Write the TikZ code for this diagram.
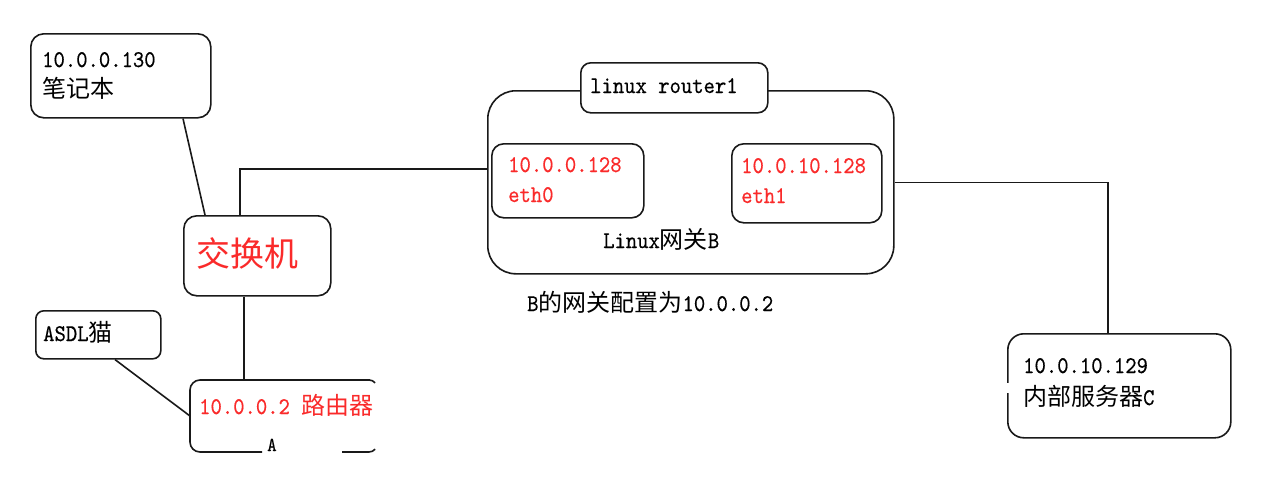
\documentclass[tikz,border=0pt]{standalone}
\usepackage{fontspec}
\newfontfamily\cjk{Noto Sans CJK SC}[Scale=1.0]
\newfontfamily\lmt{lmmono10-regular.otf}[FakeStretch=0.9, FakeBold=0.4]
\usetikzlibrary{calc}
\definecolor{redtxt}{RGB}{250,42,42}
\definecolor{ln}{RGB}{25,25,25}
\begin{document}
\begin{tikzpicture}[x=1pt,y=-1pt,
  box/.style={draw=ln, line width=1.6pt, rounded corners=#1, anchor=north west, inner sep=0pt},
  box/.default=12pt,
  txt/.style={anchor=base west, inner sep=0pt, font=\lmt\fontsize{24}{26}\selectfont},
  conn/.style={draw=ln, line width=1.6pt}]
\useasboundingbox (0,0) rectangle (1276,488);
\fill[white] (0,0) rectangle (1276,488);

% boxes
\node[box=13pt, minimum width=180pt, minimum height=84pt] (lap) at (30,33) {};
\node[box=13pt, minimum width=147pt, minimum height=80pt] (sw) at (183,215) {};
\node[box=8pt, minimum width=125pt, minimum height=48pt] (asdl) at (35,310) {};
\node[anchor=north west, inner sep=0pt, minimum width=188pt, minimum height=72pt] (rtr) at (190,380) {};
\node[box=28pt, minimum width=406pt, minimum height=183pt] (bigB) at (487,90) {};
\node[box=10pt, fill=white, minimum width=187pt, minimum height=50pt] (r1) at (580,62) {};
\node[box=12pt, minimum width=152pt, minimum height=74pt] (eth0) at (491,143) {};
\node[box=12pt, minimum width=150pt, minimum height=79pt] (eth1) at (731,143) {};
\node[box=16pt, minimum width=223pt, minimum height=104pt] (srv) at (1007,333) {};

% router outline (open on the right, gap at bottom)
\draw[draw=ln, line width=1.6pt, rounded corners=10pt] (262,452) -- (190,452) -- (190,380) -- (370,380);
\draw[draw=ln, line width=1.6pt] (369,380) arc[start angle=90, end angle=40, radius=8pt];
\draw[draw=ln, line width=1.6pt] (342,452) -- (369,452) arc[start angle=270, end angle=320, radius=8pt];
% gap in server left edge
\draw[white, line width=3pt] (1007,383) -- (1007,393);

% texts
\node[txt] (lapip) at (42,67) {10.0.0.130};
\node[txt] (lapname) at (42,97) {\cjk 笔记本};
\node[txt, text=redtxt, font=\fontsize{34}{38}\selectfont] (swname) at (196,266) {\cjk 交换机};
\node[txt] (asdlname) at (43,341) {ASDL{\cjk 猫}};
\node[txt, text=redtxt] (rtrname) at (199,414) {10.0.0.2 {\cjk 路由器}};
\node[txt, font=\lmt\fontsize{20}{22}\selectfont] (rtra) at (267,451) {A};
\node[txt] (r1name) at (590,93) {linux router1};
\node[txt, text=redtxt] (eth0ip) at (508,172) {10.0.0.128};
\node[txt, text=redtxt] (eth0name) at (508,202) {eth0};
\node[txt, text=redtxt] (eth1ip) at (741,173) {10.0.10.128};
\node[txt, text=redtxt] (eth1name) at (741,203) {eth1};
\node[txt] (bname) at (603,248) {Linux{\cjk 网关}B};
\node[txt] (bgw) at (527,311) {B{\cjk 的网关配置为}10.0.0.2};
\node[txt] (srvip) at (1023,373) {10.0.10.129};
\node[txt] (srvname) at (1023,405) {{\cjk 内部服务器}C};

% connectors
\draw[conn] ([xshift=153pt]lap.south west) -- ([xshift=22pt]sw.north west);
\draw[conn] ([xshift=57pt]sw.north west) |- ([yshift=13.5pt]bigB.west);
\draw[conn] ([xshift=61pt]sw.south west) -- ([xshift=54pt]rtr.north west);
\draw[conn] ([xshift=80pt]asdl.south west) -- ([yshift=-36pt]rtr.north west);
\draw[conn] (bigB.east) -| ([xshift=101pt]srv.north west);
\end{tikzpicture}
\end{document}
